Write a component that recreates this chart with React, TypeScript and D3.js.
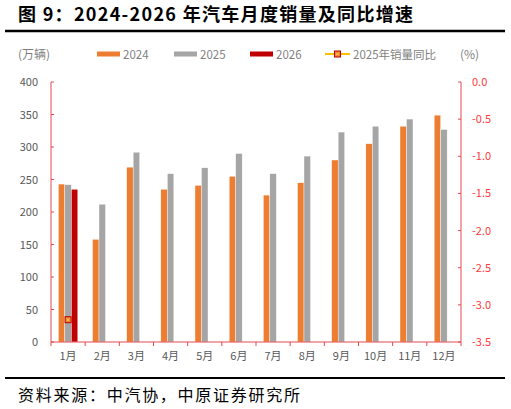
import React from "react";
import * as d3 from "d3";

const months = ["1月", "2月", "3月", "4月", "5月", "6月", "7月", "8月", "9月", "10月", "11月", "12月"];
const sales2024 = [243, 158, 269, 235, 241, 255, 226, 245, 280, 305, 332, 349];
const sales2025 = [242, 212, 292, 259, 268, 290, 259, 286, 323, 332, 343, 327];
const sales2026: (number | null)[] = [235, null, null, null, null, null, null, null, null, null, null, null];
const yoy2025: (number | null)[] = [-3.2, null, null, null, null, null, null, null, null, null, null, null];
const leftTicks = [0, 50, 100, 150, 200, 250, 300, 350, 400];
const rightTicks = [0, -0.5, -1, -1.5, -2, -2.5, -3, -3.5];
const seriesNames = ["2024", "2025", "2026"];
const seriesColors = ["#ED7D31", "#A5A5A5", "#C00000"];

const W = 511, H = 409;
const left = 51, right = 461, top = 82, bottom = 342;
const axisRed = "#E5484D";
const font = "'Noto Sans CJK SC', 'Noto Sans', sans-serif";

export default function App() {
  const x0 = d3.scaleBand<string>().domain(months).range([left, right]).padding(0);
  const bw = x0.bandwidth();
  const x1 = d3.scaleBand<string>().domain(seriesNames).range([bw * 0.215, bw * 0.785]).padding(0);
  const yL = d3.scaleLinear().domain([0, 400]).range([bottom, top]);
  const yR = d3.scaleLinear().domain([-3.5, 0]).range([bottom, top]);
  const data = [sales2024, sales2025, sales2026];

  const legendItems = [
    { x: 97, label: "2024", color: seriesColors[0] },
    { x: 174, label: "2025", color: seriesColors[1] },
    { x: 250, label: "2026", color: seriesColors[2] },
  ];

  const marker = (cx: number, cy: number, key: string) => (
    <g key={key}>
      <rect x={cx - 3} y={cy - 3} width={6} height={6} fill="#ED7D31" stroke="#C00000" strokeWidth={1} />
      <line x1={cx - 1.5} y1={cy - 1.5} x2={cx + 1.5} y2={cy + 1.5} stroke="#FFD34D" strokeWidth={1} />
      <line x1={cx + 1.5} y1={cy - 1.5} x2={cx - 1.5} y2={cy + 1.5} stroke="#FFD34D" strokeWidth={1} />
    </g>
  );

  const linePts = months
    .map((m, i) => ({ m, v: yoy2025[i] }))
    .filter((d) => d.v !== null) as { m: string; v: number }[];
  const lineGen = d3
    .line<{ m: string; v: number }>()
    .x((d) => (x0(d.m) as number) + bw / 2)
    .y((d) => yR(d.v));

  return (
    <svg width={W} height={H} style={{ position: "absolute", left: 0, top: 0, background: "#fff" }} fontFamily={font}>
      <rect x={0} y={0} width={W} height={H} fill="#fff" />
      {/* Title */}
      <text x={18} y={21} fontSize={18} fontWeight="bold" fill="#000" textLength={395} lengthAdjust="spacing">
        图 9：2024-2026 年汽车月度销量及同比增速
      </text>
      <line x1={5} x2={505} y1={31} y2={31} stroke="#000" strokeWidth={2.5} />

      {/* Legend */}
      <text x={18} y={59} fontSize={12} fill="#7F7F7F">(万辆)</text>
      {legendItems.map((d) => (
        <g key={d.label}>
          <rect x={d.x} y={51.5} width={23} height={5} fill={d.color} />
          <text x={d.x + 26} y={59} fontSize={11.5} fill="#7F7F7F">{d.label}</text>
        </g>
      ))}
      <line x1={325} x2={350} y1={54} y2={54} stroke="#FFC000" strokeWidth={2} />
      {marker(337.5, 54, "legend-marker")}
      <text x={353} y={59} fontSize={11.5} fill="#7F7F7F">2025年销量同比</text>
      <text x={460} y={59} fontSize={12} fill="#7F7F7F">(%)</text>

      {/* Bars */}
      {months.map((m, i) => (
        <g key={m} transform={`translate(${x0(m)},0)`}>
          {data.map((s, j) => {
            const v = s[i];
            if (v === null || v === undefined) return null;
            return (
              <rect
                key={j}
                x={x1(seriesNames[j])}
                y={yL(v)}
                width={x1.bandwidth()}
                height={bottom - yL(v)}
                fill={seriesColors[j]}
                stroke="#fff"
                strokeWidth={0.4}
              />
            );
          })}
        </g>
      ))}

      {/* Axes */}
      <line x1={left} x2={left} y1={top} y2={bottom} stroke={axisRed} strokeWidth={1} />
      <line x1={right} x2={right} y1={top} y2={bottom} stroke={axisRed} strokeWidth={1} />
      <line x1={left} x2={right} y1={bottom} y2={bottom} stroke={axisRed} strokeWidth={1} />
      {leftTicks.map((t) => (
        <g key={"l" + t}>
          <line x1={left} x2={left + 3} y1={yL(t)} y2={yL(t)} stroke={axisRed} strokeWidth={1} />
          <text x={38} y={yL(t) + 4} fontSize={11} fill="#595959" textAnchor="end">{t}</text>
        </g>
      ))}
      {rightTicks.map((t) => (
        <g key={"r" + t}>
          <line x1={right - 3} x2={right} y1={yR(t)} y2={yR(t)} stroke={axisRed} strokeWidth={1} />
          <text x={472} y={yR(t) + 4} fontSize={11} fill="#FF3B3B">{d3.format(".1f")(t).replace("−", "-")}</text>
        </g>
      ))}
      {months.map((m) => (
        <line key={"xt" + m} x1={x0(m)} x2={x0(m)} y1={bottom} y2={bottom + 4} stroke={axisRed} strokeWidth={1} />
      ))}
      <line x1={right} x2={right} y1={bottom} y2={bottom + 4} stroke={axisRed} strokeWidth={1} />
      {months.map((m) => (
        <text key={"xl" + m} x={(x0(m) as number) + bw / 2} y={360} fontSize={11} fill="#595959" textAnchor="middle">{m}</text>
      ))}

      {/* YoY line */}
      <path d={lineGen(linePts) || ""} fill="none" stroke="#FFC000" strokeWidth={2} />
      {linePts.map((d) => marker((x0(d.m) as number) + bw / 2, yR(d.v), "pt" + d.m))}

      {/* Footer */}
      <line x1={5} x2={505} y1={378} y2={378} stroke="#000" strokeWidth={2} />
      <text x={18} y={401} fontSize={16} fill="#000" textLength={282} lengthAdjust="spacing">资料来源：中汽协，中原证券研究所</text>
    </svg>
  );
}
